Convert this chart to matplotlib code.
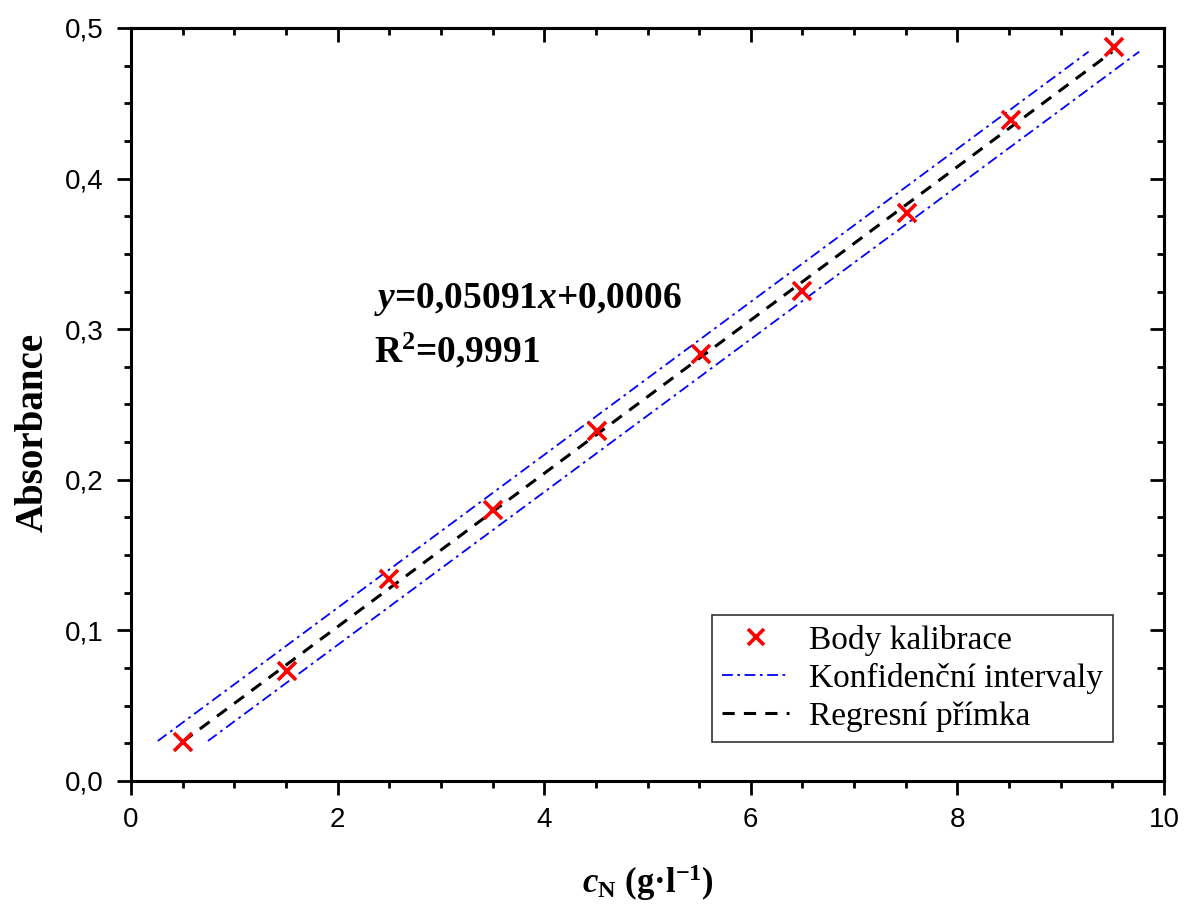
import matplotlib
matplotlib.use("Agg")
import matplotlib.pyplot as plt
import numpy as np
from matplotlib.ticker import MultipleLocator, FuncFormatter

# ---- data ----
conc = [0.50, 1.51, 2.50, 3.50, 4.51, 5.52, 6.50, 7.51, 8.52, 9.52]
absorb = [0.0259, 0.0730, 0.1341, 0.1799, 0.2324, 0.2835, 0.3254, 0.3772, 0.4389, 0.4874]
slope = 0.05091
intercept = 0.0006
reg_x = [0.5, 9.5]
band_upper_x = [0.26, 9.27]
band_lower_x = [0.745, 9.76]
band_y = [0.0266, 0.4843]
x_ticks = [0, 2, 4, 6, 8, 10]
y_ticks = [0.0, 0.1, 0.2, 0.3, 0.4, 0.5]

plt.rcParams['mathtext.fontset'] = 'custom'
plt.rcParams['mathtext.rm'] = 'Liberation Serif:bold'
plt.rcParams['mathtext.bf'] = 'Liberation Serif:bold'
plt.rcParams['mathtext.it'] = 'Liberation Serif:bold:italic'

fig = plt.figure(figsize=(11.85, 9.06), dpi=100)
ax = fig.add_axes([131/1185, 1-781/906, (1164-131)/1185, (781-28)/906])

reg_y = [slope * x + intercept for x in reg_x]

ax.plot(conc, absorb, linestyle='none', marker='x', color='#ff0000',
        markersize=13, markeredgewidth=2.6, label='Body kalibrace', zorder=5)
ax.plot(band_upper_x, band_y, color='#0000ff', lw=1.3,
        linestyle=(0, (6, 2.5, 1.5, 2.5)), label='Konfidenční intervaly')
ax.plot(band_lower_x, band_y, color='#0000ff', lw=1.3,
        linestyle=(0, (6, 2.5, 1.5, 2.5)))
ax.plot(reg_x, reg_y, color='black', lw=2.2, linestyle=(0, (4, 3)),
        label='Regresní přímka', zorder=4)

ax.set_xlim(0, 10)
ax.set_ylim(0, 0.5)
ax.set_xticks(x_ticks)
ax.set_yticks(y_ticks)
ax.xaxis.set_minor_locator(MultipleLocator(0.5))
ax.yaxis.set_minor_locator(MultipleLocator(0.025))
ax.xaxis.set_major_formatter(FuncFormatter(lambda v, p: f"{v:g}"))
ax.yaxis.set_major_formatter(FuncFormatter(lambda v, p: f"{v:.1f}".replace('.', ',')))

for s in ax.spines.values():
    s.set_linewidth(2.2)

ax.tick_params(which='both', direction='out', width=2, top=False, right=False)
ax.tick_params(which='major', length=10)
ax.tick_params(axis='y', which='major', pad=10)
ax.tick_params(axis='x', which='major', pad=9)
ax.tick_params(which='minor', length=5)
for lab in ax.get_xticklabels() + ax.get_yticklabels():
    lab.set_fontfamily(['Liberation Sans Narrow', 'Liberation Sans'])
    lab.set_fontsize(20)

# mirrored inward ticks on top and right
axt = ax.secondary_xaxis('top')
axt.set_xticks(x_ticks)
axt.xaxis.set_minor_locator(MultipleLocator(0.5))
axt.tick_params(which='both', direction='in', width=2, labeltop=False)
axt.tick_params(which='major', length=10)
axt.tick_params(which='minor', length=5)
axr = ax.secondary_yaxis('right')
axr.set_yticks(y_ticks)
axr.yaxis.set_minor_locator(MultipleLocator(0.025))
axr.tick_params(which='both', direction='in', width=2, labelright=False)
axr.tick_params(which='major', length=10)
axr.tick_params(which='minor', length=5)
for s in list(axt.spines.values()) + list(axr.spines.values()):
    s.set_linewidth(2.2)

ax.set_ylabel('Absorbance', fontfamily='Liberation Serif', fontweight='bold',
              fontsize=28)
ax.yaxis.set_label_coords(-0.077, 0.4635)
ax.set_xlabel(r'$c_{\mathrm{N}}$ (g·l$^{\mathrm{-1}}$)', fontfamily='Liberation Serif',
              fontweight='bold', fontsize=25)
ax.xaxis.set_label_coords(0.5, -0.108)

ax.text(0.2355, 0.628, r'$y$=0,05091$x$+0,0006', transform=ax.transAxes,
        fontfamily='Liberation Serif', fontweight='bold', fontsize=27)
ax.text(0.2355, 0.556, r'R$^{\mathrm{2}}$=0,9991', transform=ax.transAxes,
        fontfamily='Liberation Serif', fontweight='bold', fontsize=27)

leg = ax.legend(loc='lower right', bbox_to_anchor=(0.9506, 0.0518),
                prop={'family': 'Liberation Serif', 'size': 24},
                frameon=True, fancybox=False, edgecolor='black',
                handlelength=2.0, handletextpad=0.6, borderpad=0.3,
                labelspacing=0.22, borderaxespad=0)
leg.get_frame().set_linewidth(1.2)
leg.legend_handles[0].set_markersize(12)

fig.savefig('out.png', dpi=100)
